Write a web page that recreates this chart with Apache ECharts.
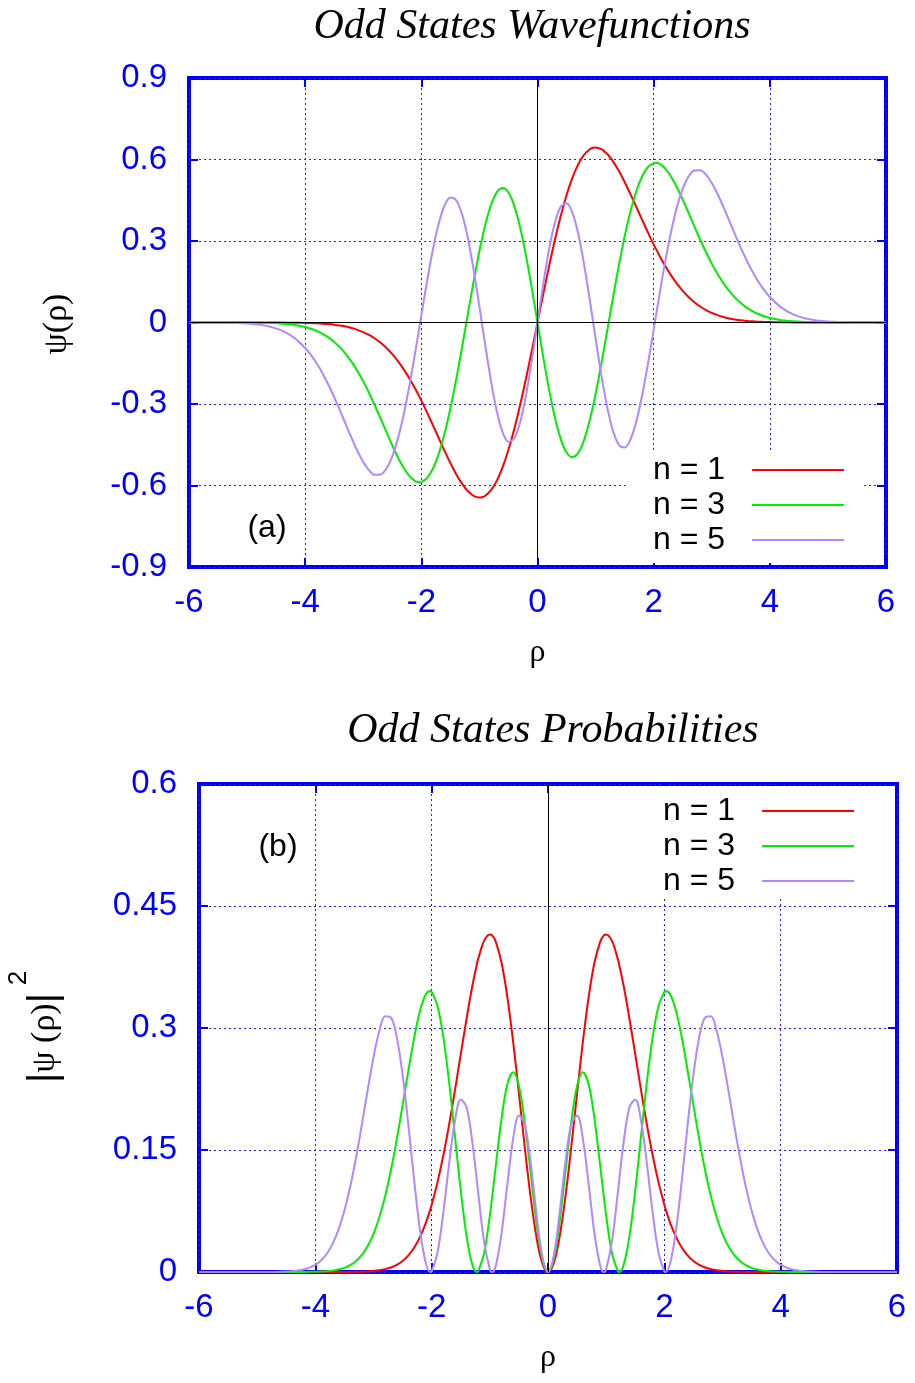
<!DOCTYPE html>
<html>
<head>
<meta charset="utf-8">
<script src="https://cdn.jsdelivr.net/npm/echarts@6/dist/echarts.min.js"></script>
<style>
html,body{margin:0;padding:0;background:#fff;}
#c{width:915px;height:1383px;}
</style>
</head>
<body>
<div id="c"></div>
<script>
// rho sample positions
const xs = [-6.0,-5.8,-5.6,-5.4,-5.2,-5.0,-4.8,-4.6,-4.4,-4.2,-4.0,-3.9,-3.8,-3.7,-3.6,-3.5,-3.4,-3.3,-3.2,-3.1,
  -3.0,-2.9,-2.8,-2.7,-2.6,-2.5,-2.4,-2.3,-2.2,-2.1,-2.02,-2.0,-1.9,-1.8,-1.7,-1.6,-1.5,-1.4,-1.3,-1.22,
  -1.2,-1.1,-1.0,-0.96,-0.9,-0.8,-0.7,-0.6,-0.5,-0.4,-0.3,-0.2,-0.1,0,
  0.1,0.2,0.3,0.4,0.5,0.6,0.7,0.8,0.9,0.96,1.0,1.1,1.2,1.22,1.3,1.4,1.5,1.6,1.7,1.8,1.9,2.0,2.02,
  2.1,2.2,2.3,2.4,2.5,2.6,2.7,2.8,2.9,3.0,3.1,3.2,3.3,3.4,3.5,3.6,3.7,3.8,3.9,4.0,4.2,4.4,4.6,4.8,5.0,5.2,5.4,5.6,5.8,6.0];

// wavefunctions psi(rho)
const psi1 = [0,0,0,0,0,0,-0.0001,-0.0001,-0.0003,-0.0007,-0.0014,-0.0021,-0.0030,-0.0042,-0.0059,-0.0081,-0.0112,-0.0151,-0.0203,-0.0270,
  -0.0354,-0.0460,-0.0590,-0.0749,-0.0940,-0.1167,-0.1431,-0.1735,-0.2078,-0.2459,-0.2790,-0.2875,-0.3320,-0.3784,-0.4257,-0.4726,-0.5173,-0.5582,-0.5932,-0.6157,
  -0.6205,-0.6381,-0.6443,-0.6433,-0.6377,-0.6171,-0.5820,-0.5324,-0.4687,-0.3922,-0.3047,-0.2082,-0.1057,0,
  0.1057,0.2082,0.3047,0.3922,0.4687,0.5324,0.5820,0.6171,0.6377,0.6433,0.6443,0.6381,0.6205,0.6157,0.5932,0.5582,0.5173,0.4726,0.4257,0.3784,0.3320,0.2875,0.2790,
  0.2459,0.2078,0.1735,0.1431,0.1167,0.0940,0.0749,0.0590,0.0460,0.0354,0.0270,0.0203,0.0151,0.0112,0.0081,0.0059,0.0042,0.0030,0.0021,0.0014,0.0007,0.0003,0.0001,0.0001,0,0,0,0,0,0];
const psi3 = [0,0,0,-0.0001,-0.0002,-0.0004,-0.0009,-0.0020,-0.0043,-0.0087,-0.0169,-0.0231,-0.0312,-0.0417,-0.0549,-0.0714,-0.0916,-0.1161,-0.1450,-0.1786,
  -0.2168,-0.2593,-0.3055,-0.3542,-0.4039,-0.4525,-0.4978,-0.5368,-0.5667,-0.5844,-0.5877,-0.5869,-0.5719,-0.5376,-0.4832,-0.4090,-0.3168,-0.2096,-0.0920,0.0058,
  0.0304,0.1511,0.2630,0.3038,0.3592,0.4333,0.4800,0.4955,0.4784,0.4291,0.3507,0.2482,0.1286,0,
  -0.1286,-0.2482,-0.3507,-0.4291,-0.4784,-0.4955,-0.4800,-0.4333,-0.3592,-0.3038,-0.2630,-0.1511,-0.0304,-0.0058,0.0920,0.2096,0.3168,0.4090,0.4832,0.5376,0.5719,0.5869,0.5877,
  0.5844,0.5667,0.5368,0.4978,0.4525,0.4039,0.3542,0.3055,0.2593,0.2168,0.1786,0.1450,0.1161,0.0916,0.0714,0.0549,0.0417,0.0312,0.0231,0.0169,0.0087,0.0043,0.0020,0.0009,0.0004,0.0002,0.0001,0,0,0];
const psi5 = [0,-0.0001,-0.0003,-0.0007,-0.0016,-0.0036,-0.0078,-0.0157,-0.0301,-0.0546,-0.0936,-0.1198,-0.1510,-0.1876,-0.2290,-0.2748,-0.3242,-0.3752,-0.4258,-0.4732,
  -0.5139,-0.5443,-0.5606,-0.5593,-0.5373,-0.4926,-0.4247,-0.3347,-0.2258,-0.1031,0.0002,0.0262,0.1537,0.2698,0.3650,0.4308,0.4604,0.4501,0.3994,0.3320,
  0.3118,0.1948,0.0588,0.0020,-0.0829,-0.2162,-0.3273,-0.4043,-0.4386,-0.4262,-0.3680,-0.2701,-0.1428,0,
  0.1428,0.2701,0.3680,0.4262,0.4386,0.4043,0.3273,0.2162,0.0829,-0.0020,-0.0588,-0.1948,-0.3118,-0.3320,-0.3994,-0.4501,-0.4604,-0.4308,-0.3650,-0.2698,-0.1537,-0.0262,-0.0002,
  0.1031,0.2258,0.3347,0.4247,0.4926,0.5373,0.5593,0.5606,0.5443,0.5139,0.4732,0.4258,0.3752,0.3242,0.2748,0.2290,0.1876,0.1510,0.1198,0.0936,0.0546,0.0301,0.0157,0.0078,0.0036,0.0016,0.0007,0.0003,0.0001,0];

// probabilities |psi(rho)|^2
const prob1 = [0,0,0,0,0,0,0,0,0,0,0,0,0,0,0,0.0001,0.0001,0.0002,0.0004,0.0007,
  0.0013,0.0021,0.0035,0.0056,0.0088,0.0136,0.0205,0.0301,0.0432,0.0605,0.0778,0.0827,0.1102,0.1432,0.1812,0.2233,0.2676,0.3115,0.3519,0.3791,
  0.3850,0.4071,0.4151,0.4138,0.4066,0.3808,0.3387,0.2834,0.2197,0.1538,0.0928,0.0434,0.0112,0,
  0.0112,0.0434,0.0928,0.1538,0.2197,0.2834,0.3387,0.3808,0.4066,0.4138,0.4151,0.4071,0.3850,0.3791,0.3519,0.3115,0.2676,0.2233,0.1812,0.1432,0.1102,0.0827,0.0778,
  0.0605,0.0432,0.0301,0.0205,0.0136,0.0088,0.0056,0.0035,0.0021,0.0013,0.0007,0.0004,0.0002,0.0001,0.0001,0,0,0,0,0,0,0,0,0,0,0,0,0,0,0];
const prob3 = [0,0,0,0,0,0,0,0,0,0.0001,0.0003,0.0005,0.0010,0.0017,0.0030,0.0051,0.0084,0.0135,0.0210,0.0319,
  0.0470,0.0673,0.0933,0.1254,0.1631,0.2048,0.2478,0.2882,0.3212,0.3415,0.3454,0.3444,0.3271,0.2890,0.2334,0.1673,0.1003,0.0440,0.0085,0,
  0.0009,0.0228,0.0692,0.0923,0.1291,0.1878,0.2304,0.2455,0.2289,0.1842,0.1230,0.0616,0.0165,0,
  0.0165,0.0616,0.1230,0.1842,0.2289,0.2455,0.2304,0.1878,0.1291,0.0923,0.0692,0.0228,0.0009,0,0.0085,0.0440,0.1003,0.1673,0.2334,0.2890,0.3271,0.3444,0.3454,
  0.3415,0.3212,0.2882,0.2478,0.2048,0.1631,0.1254,0.0933,0.0673,0.0470,0.0319,0.0210,0.0135,0.0084,0.0051,0.0030,0.0017,0.0010,0.0005,0.0003,0.0001,0,0,0,0,0,0,0,0,0];
const prob5 = [0,0,0,0,0,0,0.0001,0.0002,0.0009,0.0030,0.0088,0.0144,0.0228,0.0352,0.0525,0.0755,0.1051,0.1408,0.1813,0.2239,
  0.2640,0.2962,0.3143,0.3128,0.2887,0.2427,0.1804,0.1120,0.0510,0.0106,0,0.0007,0.0236,0.0728,0.1332,0.1856,0.2120,0.2026,0.1595,0.1102,
  0.0972,0.0379,0.0035,0,0.0069,0.0468,0.1071,0.1634,0.1924,0.1816,0.1354,0.0729,0.0204,0,
  0.0204,0.0729,0.1354,0.1816,0.1924,0.1634,0.1071,0.0468,0.0069,0,0.0035,0.0379,0.0972,0.1102,0.1595,0.2026,0.2120,0.1856,0.1332,0.0728,0.0236,0.0007,0,
  0.0106,0.0510,0.1120,0.1804,0.2427,0.2887,0.3128,0.3143,0.2962,0.2640,0.2239,0.1813,0.1408,0.1051,0.0755,0.0525,0.0352,0.0228,0.0144,0.0088,0.0030,0.0009,0.0002,0.0001,0,0,0,0,0,0];

const seriesNames = ['n = 1', 'n = 3', 'n = 5'];
const seriesColors = ['#ff0000', '#00ee00', '#b088ff'];
const titles = ['Odd States Wavefunctions', 'Odd States Probabilities'];

const BLUE = '#0000ff';
const SANS = 'Liberation Sans, Arial, sans-serif';
const SERIF = 'Liberation Serif, Times New Roman, serif';

function fmt(v) { return String(Math.round(v * 100) / 100); }

function xAx(grid, pos, labels) {
  return {
    gridIndex: grid, type: 'value', min: -6, max: 6, interval: 2, position: pos,
    axisLine: { show: false, onZero: false },
    axisTick: { show: true, inside: true, length: 9, lineStyle: { color: BLUE, width: 2 } },
    axisLabel: { show: labels, color: BLUE, fontSize: 33, fontFamily: SANS, margin: 19, formatter: fmt },
    splitLine: { show: labels, lineStyle: { color: '#2020ff', width: 1, type: [2, 3] } },
    name: labels ? 'ρ' : '', nameLocation: 'middle', nameGap: 70,
    nameTextStyle: { color: '#000', fontSize: 32, fontFamily: SERIF }
  };
}
function yAx(grid, pos, labels, min, max, interval) {
  return {
    gridIndex: grid, type: 'value', min: min, max: max, interval: interval, position: pos,
    axisLine: { show: false, onZero: false },
    axisTick: { show: true, inside: true, length: 9, lineStyle: { color: BLUE, width: 2 } },
    axisLabel: { show: labels, color: BLUE, fontSize: 33, fontFamily: SANS, margin: 22, formatter: fmt },
    splitLine: { show: labels, lineStyle: { color: '#2020ff', width: 1, type: [2, 3] } }
  };
}
function line(name, ys, color, xi, yi, mark) {
  const s = {
    type: 'line', name: name, xAxisIndex: xi, yAxisIndex: yi,
    data: xs.map((x, i) => [x, ys[i]]),
    symbol: 'none', showSymbol: false, smooth: 0.35, animation: false,
    lineStyle: { color: color, width: 2 }, itemStyle: { color: color }, z: 3
  };
  if (mark) {
    s.markLine = {
      silent: true, symbol: ['none', 'none'], animation: false,
      label: { show: false },
      lineStyle: { color: '#000', width: 1, type: 'solid' },
      emphasis: { disabled: true },
      data: mark
    };
  }
  return s;
}
function legend(left, top, padding) {
  return {
    data: seriesNames, orient: 'vertical', align: 'right', left: left, top: top,
    icon: 'rect', itemWidth: 92, itemHeight: 2, itemGap: 3,
    backgroundColor: '#ffffff', padding: padding, selectedMode: false,
    textStyle: { color: '#000', fontSize: 32, fontFamily: SANS, padding: [0, 22, 0, 0] }
  };
}

const chart = echarts.init(document.getElementById('c'), null, { renderer: 'canvas' });
chart.setOption({
  animation: false,
  color: seriesColors,
  grid: [
    { left: 189, top: 78, width: 697, height: 489, show: true, borderColor: BLUE, borderWidth: 4, backgroundColor: 'transparent' },
    { left: 199, top: 784, width: 698, height: 488, show: true, borderColor: BLUE, borderWidth: 4, backgroundColor: 'transparent' }
  ],
  xAxis: [xAx(0, 'bottom', true), xAx(0, 'top', false), xAx(1, 'bottom', true), xAx(1, 'top', false)],
  yAxis: [
    yAx(0, 'left', true, -0.9, 0.9, 0.3), yAx(0, 'right', false, -0.9, 0.9, 0.3),
    yAx(1, 'left', true, 0, 0.6, 0.15), yAx(1, 'right', false, 0, 0.6, 0.15)
  ],
  legend: [
    legend(627, 453, [1, 20, 7, 26]),
    legend(637, 786, [9, 20, 2, 26])
  ],
  series: [
    line(seriesNames[0], psi1, seriesColors[0], 0, 0, [{ xAxis: 0 }, { yAxis: 0 }]),
    line(seriesNames[1], psi3, seriesColors[1], 0, 0),
    line(seriesNames[2], psi5, seriesColors[2], 0, 0),
    line(seriesNames[0], prob1, seriesColors[0], 2, 2, [{ xAxis: 0 }]),
    line(seriesNames[1], prob3, seriesColors[1], 2, 2),
    line(seriesNames[2], prob5, seriesColors[2], 2, 2)
  ],
  graphic: [
    { type: 'text', x: 532, y: 27, z: 100, style: { text: titles[0], fill: '#000', font: 'italic 42px ' + SERIF, align: 'center', verticalAlign: 'middle' } },
    { type: 'text', x: 553, y: 731, z: 100, style: { text: titles[1], fill: '#000', font: 'italic 42px ' + SERIF, align: 'center', verticalAlign: 'middle' } },
    { type: 'text', x: 57, y: 324, rotation: Math.PI / 2, z: 100, style: { text: 'ψ(ρ)', fill: '#000', font: '34px ' + SERIF, align: 'center', verticalAlign: 'middle' } },
    { type: 'text', x: 45, y: 1038, rotation: Math.PI / 2, z: 100, style: {
        text: '{b||}{g|ψ (ρ)}{b||}', align: 'center', verticalAlign: 'middle',
        rich: { b: { fontSize: 40, fontFamily: SANS, fill: '#000' }, g: { fontSize: 34, fontFamily: SERIF, fill: '#000' } } } },
    { type: 'text', x: 19, y: 978, rotation: Math.PI / 2, z: 100, style: { text: '2', fill: '#000', font: '26px ' + SANS, align: 'center', verticalAlign: 'middle' } },
    { type: 'text', x: 267, y: 528, z: 100, style: { text: '(a)', fill: '#000', font: '32px ' + SANS, align: 'center', verticalAlign: 'middle' } },
    { type: 'text', x: 278, y: 847, z: 100, style: { text: '(b)', fill: '#000', font: '32px ' + SANS, align: 'center', verticalAlign: 'middle' } }
  ]
});
</script>
</body>
</html>
